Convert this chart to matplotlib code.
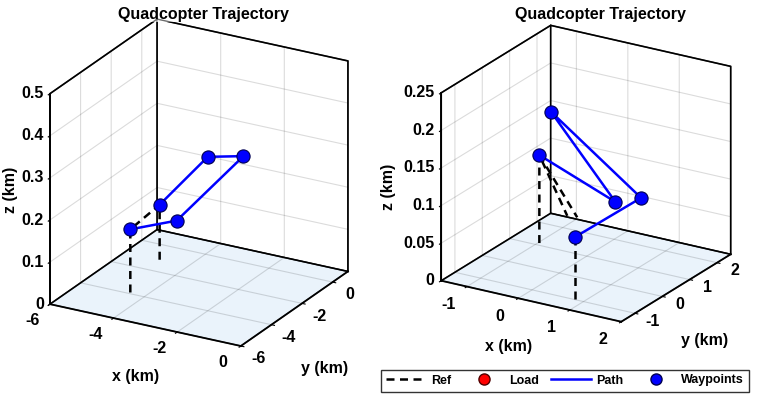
import matplotlib
matplotlib.use("Agg")
import matplotlib.pyplot as plt
from matplotlib.lines import Line2D
from mpl_toolkits.mplot3d import proj3d

plt.rcParams['font.family'] = 'Liberation Sans'
plt.rcParams['font.weight'] = 'bold'
plt.rcParams['axes.unicode_minus'] = False
plt.rcParams['grid.color'] = (0, 0, 0, 0.14)
plt.rcParams['grid.linewidth'] = 0.8

# ---- left panel (km) ----
path1_x = [-4.48, -3.67, -2.12, -2.95, -4.90]
path1_y = [-3.91, -2.56, -1.42, -2.03, -1.12]
path1_z = [0.150, 0.150, 0.300, 0.300, 0.131]
ref1_x = [-4.48, -4.48, -4.90, -4.90]
ref1_y = [-3.91, -3.91, -1.12, -1.12]
ref1_z = [0.0, 0.150, 0.131, 0.0]

# ---- right panel (km) ----
path2_x = [-0.975, 0.889, -0.37, 1.16, 0.858]
path2_y = [1.099, 0.375, 0.388, 0.804, -1.032]
path2_z = [0.117, 0.100, 0.200, 0.100, 0.0846]
ref2a_x = [-0.975, -0.975, -0.686]
ref2a_y = [1.099, 1.099, 1.576]
ref2a_z = [0.0, 0.117, 0.03]
ref2b_x = [-0.975, -0.511]
ref2b_y = [1.099, 1.61]
ref2b_z = [0.117, 0.03]
ref2c_x = [0.858, 0.858]
ref2c_y = [-1.032, -1.032]
ref2c_z = [0.0846, 0.0]

# load positions (none shown)
load_x, load_y, load_z = [], [], []

xlim1, ylim1, zlim1 = (-6, 0), (-6, 1), (0, 0.5)
xlim2, ylim2, zlim2 = (-1.5, 2), (-1.5, 2.5), (0, 0.25)
xticks1 = [-6, -4, -2, 0]
yticks1 = [-6, -4, -2, 0]
zticks1 = [0, 0.1, 0.2, 0.3, 0.4, 0.5]
xticks2 = [-1, 0, 1, 2]
yticks2 = [-1, 0, 1, 2]
zticks2 = [0, 0.05, 0.1, 0.15, 0.2, 0.25]

W, H = 762, 418
fig = plt.figure(figsize=(W / 100, H / 100), dpi=100)

def px_axes(cx, cy, side):
    return [(cx - side / 2) / W, 1 - (cy + side / 2) / H, side / W, side / H]

def style(ax, xlim, ylim, zlim, xt, yt, zt, elev, azim, aspect, zoom):
    ax.set_proj_type('ortho')
    ax.view_init(elev=elev, azim=azim)
    ax.set_xlim(xlim)
    ax.set_ylim(ylim)
    ax.set_zlim(zlim)
    ax.set_xticks(xt)
    ax.set_yticks(yt)
    ax.set_zticks(zt)
    ax.set_box_aspect(aspect, zoom=zoom)
    for axis in (ax.xaxis, ax.yaxis, ax.zaxis):
        # tick labels are written below, MATLAB style
        axis.set_tick_params(labelbottom=False, labeltop=False)
        for t in axis.get_major_ticks():
            t.label1.set_visible(False)
            t.label2.set_visible(False)
        axis.pane.set_facecolor('white')
        axis.pane.set_edgecolor('black')
        axis.line.set_color('black')
        axis.line.set_linewidth(1.3)
        axis._axinfo['tick']['inward_factor'] = 0.2
        axis._axinfo['tick']['outward_factor'] = 0.0
    ax.zaxis.pane.set_facecolor('#d6e8f9')
    ax.zaxis.set_ticks_position('lower')
    # back edges of the box (MATLAB "box on")
    x0, x1 = xlim
    y0, y1 = ylim
    z0, z1 = zlim
    edge = dict(color='black', lw=1.2, zorder=1)
    ax.plot([x0, x0, x0], [y0, y0, y1], [z0, z1, z1], **edge)
    ax.plot([x0, x0, x1, x1], [y1, y1, y1, y1], [z0, z1, z1, z0], **edge)
    ax.plot([x0, x0, x1], [y0, y1, y1], [z0, z0, z0], **edge)

def label_at(ax, x, y, z, s, ha):
    # project the 3-D anchor once and place an ordinary 2-D text there
    px, py, _ = proj3d.proj_transform(x, y, z, ax.get_proj())
    ax.text2D(px, py, s, transform=ax.transData, ha=ha, va='center',
              fontsize=11.5, fontweight='bold', zorder=5)

def tick_text(ax, xt, yt, zt, xpos, ypos, zpos):
    for v in xt:
        label_at(ax, v + xpos[0], xpos[1], 0, '%g' % v, 'center')
    for v in yt:
        label_at(ax, ypos[0], v + ypos[1], 0, '%g' % v, 'center')
    for v in zt:
        label_at(ax, zpos[0], zpos[1], v, '%g' % v, 'right')

ax1 = fig.add_axes(px_axes(194.5, 187, 330), projection='3d', computed_zorder=False)
ax2 = fig.add_axes(px_axes(581.5, 178, 330), projection='3d', computed_zorder=False)

style(ax1, xlim1, ylim1, zlim1, xticks1, yticks1, zticks1, 23.0, -60.7, (1, 1, 1.045), 1.132)
style(ax2, xlim2, ylim2, zlim2, xticks2, yticks2, zticks2, 22.0, -58.7, (1, 1, 0.962), 1.06)

tick_text(ax1, xticks1, yticks1, zticks1, (0.14, -7.45), (0.85, -0.64), (-6.145, -6.105))
tick_text(ax2, xticks2, yticks2, zticks2, (0.15, -2.45), (2.43, -0.17), (-1.598, -1.57))

dash = (0, (3.2, 2.2))
mk = dict(marker='o', markersize=9.5, markerfacecolor='#0000ff',
          markeredgecolor='#000050', markeredgewidth=0.8, linestyle='none')

ax1.plot(ref1_x, ref1_y, ref1_z, color='black', lw=1.8, ls=dash, zorder=2)
ax1.plot(path1_x, path1_y, path1_z, color='#0000ff', lw=1.8, zorder=3)
ax1.plot(path1_x, path1_y, path1_z, zorder=4, **mk)

for rx, ry, rz in [(ref2a_x, ref2a_y, ref2a_z), (ref2b_x, ref2b_y, ref2b_z), (ref2c_x, ref2c_y, ref2c_z)]:
    ax2.plot(rx, ry, rz, color='black', lw=1.8, ls=dash, zorder=2)
ax2.plot(path2_x, path2_y, path2_z, color='#0000ff', lw=1.8, zorder=3)
ax2.plot(path2_x, path2_y, path2_z, zorder=4, **mk)
ax2.plot(load_x, load_y, load_z, marker='o', color='red', linestyle='none')

# titles and axis labels
fig.text(203 / W, 1 - 14 / H, 'Quadcopter Trajectory', ha='center', va='center', fontsize=11.5, fontweight='bold')
fig.text(600 / W, 1 - 14 / H, 'Quadcopter Trajectory', ha='center', va='center', fontsize=11.5, fontweight='bold')
fig.text(136 / W, 1 - 377 / H, 'x (km)', ha='center', va='center', fontsize=11.5)
fig.text(325 / W, 1 - 368 / H, 'y (km)', ha='center', va='center', fontsize=11.5)
fig.text(11 / W, 1 - 190 / H, 'z (km)', ha='center', va='center', fontsize=11.5, rotation=90)
fig.text(509 / W, 1 - 346 / H, 'x (km)', ha='center', va='center', fontsize=11.5)
fig.text(705 / W, 1 - 341 / H, 'y (km)', ha='center', va='center', fontsize=11.5)
fig.text(388 / W, 1 - 187 / H, 'z (km)', ha='center', va='center', fontsize=11.5, rotation=90)

handles = [
    Line2D([], [], color='black', lw=1.8, ls=dash),
    Line2D([], [], marker='o', color='red', markeredgecolor='#500000', markersize=8, linestyle='none'),
    Line2D([], [], color='#0000ff', lw=1.8),
    Line2D([], [], marker='o', color='#0000ff', markeredgecolor='#000050', markersize=8, linestyle='none'),
]
leg = fig.legend(handles, ['Ref', 'Load', 'Path', 'Waypoints'], ncol=4,
                 loc='center', bbox_to_anchor=(565 / W, 1 - 380.5 / H),
                 fontsize=9, frameon=True, fancybox=False, edgecolor='black',
                 handlelength=3.2, handletextpad=0.4, columnspacing=1.0,
                 borderpad=0.4)
leg.get_frame().set_linewidth(1.0)

fig.savefig('out.png', dpi=100, facecolor='white')
